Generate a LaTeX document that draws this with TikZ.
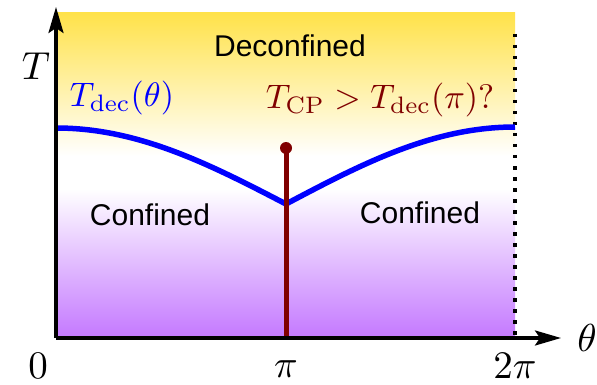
\documentclass[tikz,border=0pt]{standalone}
\usepackage{fontspec}
\newfontfamily\arialf{Liberation Sans}
\usetikzlibrary{arrows.meta}
\definecolor{topyel}{RGB}{255,226,74}
\definecolor{botpur}{RGB}{196,120,255}
\definecolor{cpred}{RGB}{128,0,0}
\pgfdeclareverticalshading{phase}{100bp}{color(0bp)=(botpur); color(25bp)=(botpur); color(48bp)=(white); color(53bp)=(white); color(75bp)=(topyel); color(100bp)=(topyel)}
\tikzset{
  regionlbl/.style={font=\arialf\fontsize{30}{34}\selectfont, inner sep=0pt},
  mathlbl/.style={font=\normalsize, scale=3.4, inner sep=0pt},
  axislbl/.style={font=\normalsize, scale=3.9, inner sep=0pt},
  axisline/.style={line width=3.2pt, -{Stealth[length=26pt,width=15pt,inset=5pt]}},
}
\begin{document}
\begin{tikzpicture}[x=1pt,y=-1pt]
\useasboundingbox (0,0) rectangle (597,385);
% gradient background
\shade[shading=phase] (56,13) rectangle (515,338);
% dotted right boundary
\coordinate (dt) at (515,34);
\coordinate (db) at (515,338);
\draw[line width=3.2pt, dash pattern=on 3.5pt off 7.5pt] (dt) -- (db);
% blue transition curve
\draw[blue, line width=5.5pt, domain=0:180, samples=60, variable=\t]
  plot ({56+\t/180*230}, {204-76*cos(\t/2)});
\draw[blue, line width=5.5pt, domain=180:360, samples=60, variable=\t]
  plot ({286+(\t-180)/180*229}, {204+77*cos(\t/2)});
% red critical line
\coordinate (rb) at (286,338);
\coordinate (rt) at (286,148);
\draw[cpred, line width=5pt] (rb) -- (rt);
\fill[cpred] (rt) circle (6pt);
% axes
\coordinate (o) at (56,338);
\coordinate (xe) at (561,338);
\coordinate (ye) at (56,7);
\draw[axisline] (o) -- (xe);
\draw[axisline] (o) -- (ye);
% labels
\node[axislbl] (Tl) at (36,66) {$T$};
\node[axislbl] (thl) at (587,338) {$\theta$};
\node[axislbl] (zero) at (38,366) {$0$};
\node[axislbl] (pil) at (286,369) {$\pi$};
\node[axislbl] (tpil) at (515,366) {$2\pi$};
\node[regionlbl] (dec) at (290,46) {Deconfined};
\node[regionlbl] (conf1) at (150,215) {Confined};
\node[regionlbl] (conf2) at (420,213) {Confined};
\node[mathlbl, text=blue] (tdec) at (122,98) {$T_{\mathrm{dec}}(\theta)$};
\node[mathlbl, text=cpred] (tcp) at (380,100) {$T_{\mathrm{CP}}>T_{\mathrm{dec}}(\pi)?$};
\end{tikzpicture}
\end{document}
